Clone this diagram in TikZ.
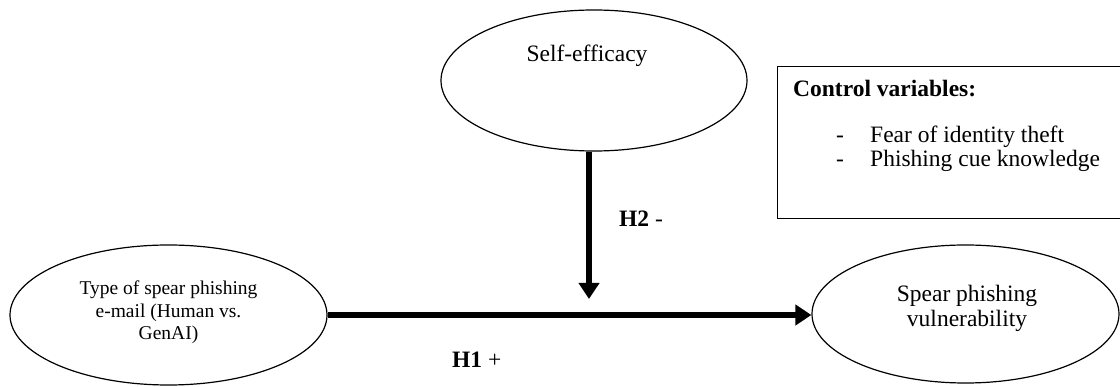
\documentclass[tikz,border=0pt]{standalone}
\usepackage{fontspec}
\setmainfont{Liberation Serif}
\usetikzlibrary{positioning,arrows.meta,shapes.geometric}
\tikzset{
  construct/.style={ellipse, draw, line width=1.2pt, inner sep=0pt},
  txt/.style={font=\fontsize{23.5}{25}\selectfont, align=center, inner sep=0pt},
  smalltxt/.style={txt, font=\fontsize{19.5}{22.5}\selectfont},
  effect/.style={-{Triangle[length=16pt,width=20pt]}, line width=6pt},
  ctrl/.style={draw, line width=1.2pt, inner sep=0pt}
}
\begin{document}
\begin{tikzpicture}[x=1pt, y=-1pt]
  \useasboundingbox (0,0) rectangle (1120,387);
  \node[construct, minimum width=317pt, minimum height=140pt] (iv) at (168.5,315) {};
  \node[construct, minimum width=307pt, minimum height=138pt] (dv) at (965.5,314) {};
  \node[construct, minimum width=306pt, minimum height=141pt] (se) at (594,80.5) {};
  \node[smalltxt, anchor=base] (ivtxt) at (168.5,340) {Type of spear phishing\\e-mail (Human vs.\\GenAI)};
  \node[txt, anchor=base] (dvtxt) at (967,327) {Spear phishing\\vulnerability};
  \node[txt, anchor=base] (setxt) at (587,62) {Self-efficacy};
  \coordinate (mod) at (589,299);
  \draw[effect] (iv.east) -- (iv.east -| dv.west);
  \draw[effect] (se.south -| mod) -- (mod);
  \node[txt, anchor=base west] (h1) at (452,368) {\textbf{H1} +};
  \node[txt, anchor=base west] (h2) at (619,227) {\textbf{H2} -};
  \node[ctrl, anchor=north west, minimum width=350pt, minimum height=152pt] (ctrlbox) at (777,66) {};
  \node[txt, anchor=base west] (ctrltitle) at (793,97) {\textbf{Control variables:}};
  \node[txt, anchor=base west] (dash1) at (836,143) {-};
  \node[txt, anchor=base west] (item1) at (870,143) {Fear of identity theft};
  \node[txt, anchor=base west] (dash2) at (836,167) {-};
  \node[txt, anchor=base west] (item2) at (870,167) {Phishing cue knowledge};
\end{tikzpicture}
\end{document}
